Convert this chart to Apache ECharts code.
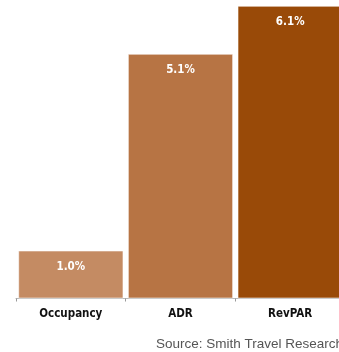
<!DOCTYPE html>
<html>
<head>
<meta charset="utf-8">
<script src="https://cdn.jsdelivr.net/npm/echarts@6/dist/echarts.min.js"></script>
<style>
html,body{margin:0;padding:0;background:#fff;}
#chart{width:339px;height:352px;}
</style>
</head>
<body>
<div id="chart"></div>
<script>
const categories = ['Occupancy', 'ADR', 'RevPAR'];
const values = [1.0, 5.1, 6.1];
const sourceText = 'Source: Smith Travel Research';

const palette = ['#C48B63', '#B77444', '#994A08'];
const condensed = "'Liberation Sans Narrow', 'DejaVu Sans Condensed', 'Arial Narrow', sans-serif";

const chart = echarts.init(document.getElementById('chart'), null, {renderer: 'canvas'});
chart.setOption({
  animation: false,
  backgroundColor: '#ffffff',
  grid: {left: 16, top: 1, bottom: 53.5, width: 329, containLabel: false, outerBoundsMode: 'none'},
  xAxis: {
    type: 'category',
    data: categories,
    boundaryGap: true,
    axisLine: {show: true, lineStyle: {color: '#b8b8b8', width: 1}},
    axisTick: {show: true, length: 3, lineStyle: {color: '#999'}},
    axisLabel: {
      margin: 10,
      color: '#111',
      fontFamily: condensed,
      fontWeight: 'bold',
      fontSize: 11.5
    }
  },
  yAxis: {
    type: 'value',
    min: 0,
    max: 6.2,
    show: false,
    splitLine: {show: false}
  },
  series: [{
    type: 'bar',
    data: values.map((v, i) => ({value: v, itemStyle: {color: palette[i]}})),
    barCategoryGap: '4%',
    itemStyle: {borderColor: 'rgba(255,255,255,0.55)', borderWidth: 1},
    label: {
      show: true,
      position: 'insideTop',
      distance: 10,
      color: '#ffffff',
      fontFamily: condensed,
      fontWeight: 'bold',
      fontSize: 11.5,
      formatter: p => p.value.toFixed(1) + '%'
    }
  }],
  graphic: [{
    type: 'text',
    left: 156,
    top: 337,
    style: {
      text: sourceText,
      fill: '#555',
      font: "13.5px 'Liberation Sans', Arial, sans-serif"
    }
  }]
});
</script>
</body>
</html>
